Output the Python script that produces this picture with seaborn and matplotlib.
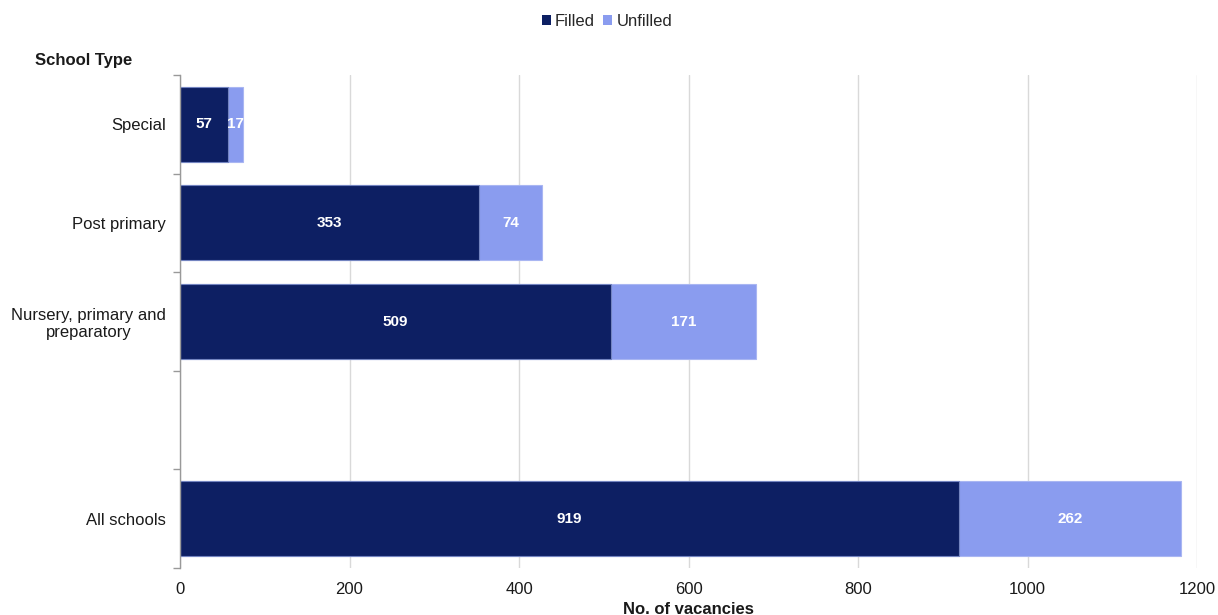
import matplotlib
matplotlib.use("Agg")
import matplotlib.pyplot as plt
import seaborn as sns
import pandas as pd
import numpy as np
from matplotlib.patches import Patch

categories = ["Special", "Post primary", "Nursery, primary and\npreparatory", " ", "All schools"]
data_categories = ["Special", "Post primary", "Nursery, primary and\npreparatory", "All schools"]
filled = [57, 353, 509, 919]
unfilled = [17, 74, 171, 262]
x_ticks = [0, 200, 400, 600, 800, 1000, 1200]

c_filled = "#0D1F63"
c_unfilled = "#8A9CEF"

sns.set_theme(style="white")
plt.rcParams["font.family"] = ["Liberation Sans", "DejaVu Sans"]

df = pd.DataFrame({"cat": data_categories, "filled": filled, "unfilled": unfilled})
df["total"] = df["filled"] + df["unfilled"]

fig = plt.figure(figsize=(12.18, 6.15), dpi=100)
ax = fig.add_axes([180 / 1218, 47 / 615, 1017 / 1218, 493 / 615])

sns.barplot(data=df, y="cat", x="total", order=categories, orient="h",
            color=c_unfilled, saturation=1, width=0.76, ax=ax,
            edgecolor="#a9b6f2", linewidth=0.8)
sns.barplot(data=df, y="cat", x="filled", order=categories, orient="h",
            color=c_filled, saturation=1, width=0.76, ax=ax,
            edgecolor="#7384c0", linewidth=0.8)

for i, cat in enumerate(categories):
    if cat not in data_categories:
        continue
    j = data_categories.index(cat)
    f = filled[j]
    u = unfilled[j]
    ax.text(f / 2, i, str(f), color="white", fontsize=11, fontweight="bold",
            ha="center", va="center")
    ax.text(f + u / 2, i, str(u), color="white", fontsize=11, fontweight="bold",
            ha="center", va="center")

ax.set_xlim(0, 1200)
ax.set_ylim(4.5, -0.5)
ax.set_xticks(x_ticks)
ax.set_xticklabels([str(t) for t in x_ticks], fontsize=12, color="#1a1a1a")
ax.set_yticks(range(len(categories)))
ax.set_yticklabels(categories, fontsize=12, color="#1a1a1a")
ax.set_yticks(np.arange(-0.5, len(categories), 1.0), minor=True)
ax.tick_params(axis="y", which="major", length=0, pad=10)
ax.tick_params(axis="y", which="minor", length=5, color="#999999", width=1, left=True)
ax.tick_params(axis="x", length=0, pad=10)
ax.set_xlabel("")
ax.set_ylabel("")
for lab in ax.get_yticklabels():
    lab.set_multialignment("center")

ax.grid(axis="x", color="#d9d9d9", linewidth=1)
ax.set_axisbelow(True)
for s in ["top", "right", "bottom"]:
    ax.spines[s].set_visible(False)
ax.spines["left"].set_color("#999999")
ax.spines["left"].set_linewidth(1)

fig.text(35 / 1218, 1 - 60 / 615, "School Type", fontsize=12, fontweight="bold",
         ha="left", va="center", color="#1a1a1a")
fig.text(688 / 1218, 1 - 609 / 615, "No. of vacancies", fontsize=12, fontweight="bold",
         ha="center", va="center", color="#1a1a1a")

handles = [Patch(facecolor=c_filled, edgecolor="none", label="Filled"),
           Patch(facecolor=c_unfilled, edgecolor="none", label="Unfilled")]
fig.legend(handles=handles, loc="center", bbox_to_anchor=(607 / 1218, 1 - 21 / 615),
           ncol=2, frameon=False, fontsize=12, handlelength=0.55, handleheight=0.55,
           handletextpad=0.25, columnspacing=0.5)

fig.savefig("out.png", dpi=100)
